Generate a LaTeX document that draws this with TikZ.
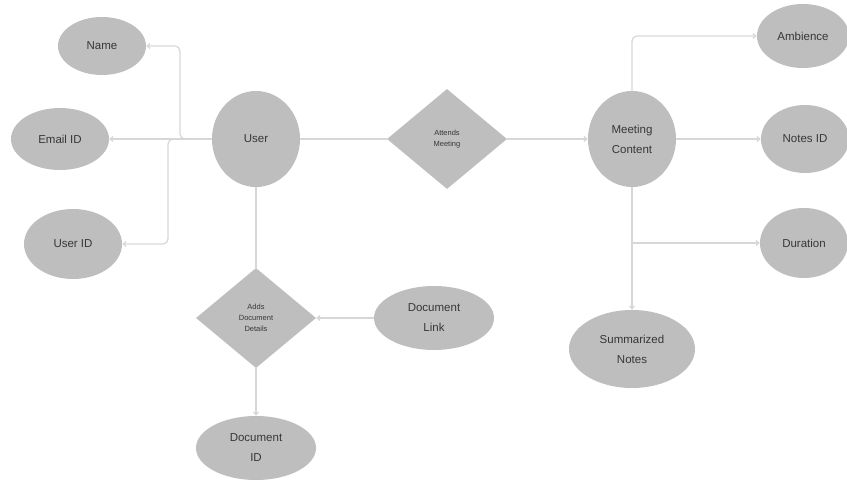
\documentclass[tikz,border=0pt]{standalone}
\usepackage{fontspec}
\setmainfont{Liberation Sans}
\usetikzlibrary{shapes.geometric,arrows.meta}
\definecolor{shapefill}{RGB}{190,190,190}
\definecolor{linegray}{RGB}{215,215,215}
\definecolor{txt}{RGB}{55,55,55}
\begin{document}
\begin{tikzpicture}[x=1pt,y=-1pt,
  attr/.style={ellipse,fill=shapefill,draw=none,text=txt,inner sep=0pt,
    font=\fontsize{11.5}{20}\selectfont,align=center},
  rel/.style={diamond,fill=shapefill,draw=none,text=txt,inner sep=0pt,
    font=\fontsize{7.5}{11}\selectfont,align=center},
  conn/.style={draw=linegray,line width=1.2pt,rounded corners=5pt},
  arr/.style={conn,-{Straight Barb[length=3pt,width=5pt]}}]
\useasboundingbox (0,0) rectangle (847,481);
\node[attr,minimum width=88,minimum height=58] (name) at (102,46) {Name};
\node[attr,minimum width=98,minimum height=62] (email) at (60,139) {Email ID};
\node[attr,minimum width=98,minimum height=70] (uid) at (73,244) {User ID};
\node[attr,minimum width=88,minimum height=96] (user) at (256,139) {User};
\node[rel,minimum width=120,minimum height=100] (attends) at (447,139) {Attends\\Meeting};
\node[attr,minimum width=88,minimum height=96] (mc) at (632,139) {Meeting\\Content};
\node[attr,minimum width=92,minimum height=64] (amb) at (803,36) {Ambience};
\node[attr,minimum width=88,minimum height=68] (nid) at (805,139) {Notes ID};
\node[attr,minimum width=88,minimum height=70] (dur) at (804,243) {Duration};
\node[attr,minimum width=126,minimum height=78] (sum) at (632,349) {Summarized\\Notes};
\node[rel,minimum width=120,minimum height=100] (adds) at (256,318) {Adds\\Document\\Details};
\node[attr,minimum width=120,minimum height=64] (dlink) at (434,318) {Document\\Link};
\node[attr,minimum width=120,minimum height=64] (did) at (256,448) {Document\\ID};
\coordinate (j1) at (180,139);
\coordinate (j2) at (168,139);
\coordinate (j3) at (632,243);
\draw[arr] (user.west) -- (j1) |- (name.east);
\draw[arr] (user.west) -- (email.east);
\draw[arr] (user.west) -- (j2) |- (uid.east);
\draw[conn] (user.east) -- (attends.west);
\draw[arr] (attends.east) -- (mc.west);
\draw[arr] (mc.north) |- (amb.west);
\draw[arr] (mc.east) -- (nid.west);
\draw[arr] (mc.south) -- (sum.north);
\draw[arr] (j3) -- (dur.west);
\draw[conn] (user.south) -- (adds.north);
\draw[arr] (adds.south) -- (did.north);
\draw[arr] (dlink.west) -- (adds.east);
\end{tikzpicture}
\end{document}
